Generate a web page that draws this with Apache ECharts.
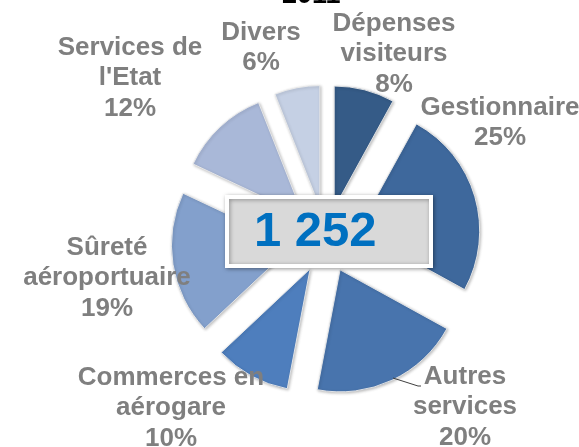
<!DOCTYPE html>
<html>
<head>
<meta charset="utf-8">
<script src="https://cdn.jsdelivr.net/npm/echarts@6/dist/echarts.min.js"></script>
<style>
  html, body { margin: 0; padding: 0; background: #ffffff; }
  #chart { width: 579px; height: 447px; }
</style>
</head>
<body>
<div id="chart"></div>
<script>
// ---- Data ----
var categories = ['Dépenses\nvisiteurs', 'Gestionnaire', 'Autres\nservices', 'Commerces en\naérogare', 'Sûreté\naéroportuaire', "Services de\nl'Etat", 'Divers'];
var shares = [8, 25, 20, 10, 19, 12, 6];
var totalLabel = '1 252';
var titleText = '2011';

// ---- Styling / layout (not data) ----
var colors = ['#355B87', '#3E689C', '#4874AD', '#4E7EBD', '#83A0CC', '#A9B8D8', '#C5D0E4'];
var labelCenters = [[394, 54], [500, 123], [465, 407], [171, 408], [107, 278], [130, 78], [261, 48]];

var chart = echarts.init(document.getElementById('chart'), null, { renderer: 'canvas' });

var pieData = categories.map(function (c, i) {
  return {
    name: c,
    value: shares[i],
    selected: true,
    itemStyle: { color: colors[i] }
  };
});

var graphics = [
  {
    type: 'text',
    z: 100,
    x: 282,
    y: -18,
    style: {
      text: titleText,
      fill: '#000000',
      font: 'bold 27px "Liberation Sans"',
      textAlign: 'left',
      textVerticalAlign: 'top'
    }
  },
  {
    type: 'rect',
    z: 100,
    shape: { x: 227, y: 197, width: 204, height: 69 },
    style: {
      fill: '#D9D9D9',
      stroke: '#ffffff',
      lineWidth: 4,
      shadowBlur: 4,
      shadowColor: 'rgba(0,0,0,0.35)',
      shadowOffsetX: 1,
      shadowOffsetY: 1
    }
  },
  {
    type: 'text',
    z: 101,
    x: 254,
    y: 232,
    style: {
      text: totalLabel,
      fill: '#0070C0',
      font: 'bold 49px "Liberation Sans"',
      textAlign: 'left',
      textVerticalAlign: 'middle'
    }
  },
  {
    type: 'polyline',
    z: 99,
    shape: { points: [[393, 378], [418, 386], [421, 386]] },
    style: { stroke: '#404040', lineWidth: 1, fill: null }
  }
];

categories.forEach(function (c, i) {
  graphics.push({
    type: 'text',
    z: 102,
    x: labelCenters[i][0],
    y: labelCenters[i][1],
    style: {
      text: c + '\n' + shares[i] + '%',
      fill: '#7F7F7F',
      font: 'bold 26px "Liberation Sans"',
      lineHeight: 30.5,
      textAlign: 'center',
      textVerticalAlign: 'middle',
      shadowColor: 'rgba(230,190,150,0.5)',
      shadowBlur: 2
    }
  });
});

var option = {
  animation: false,
  backgroundColor: '#ffffff',
  series: [{
    type: 'pie',
    center: [326, 240],
    radius: [0, 122],
    startAngle: 90,
    clockwise: true,
    selectedMode: 'multiple',
    selectedOffset: 33,
    emphasis: { disabled: true },
    data: pieData,
    itemStyle: {
      borderColor: 'rgba(235,235,235,0.9)',
      borderWidth: 1,
      shadowBlur: 3,
      shadowColor: 'rgba(0,0,0,0.25)',
      shadowOffsetX: 1,
      shadowOffsetY: 1
    },
    label: { show: false },
    labelLine: { show: false }
  }],
  graphic: graphics
};

chart.setOption(option);
</script>
</body>
</html>
